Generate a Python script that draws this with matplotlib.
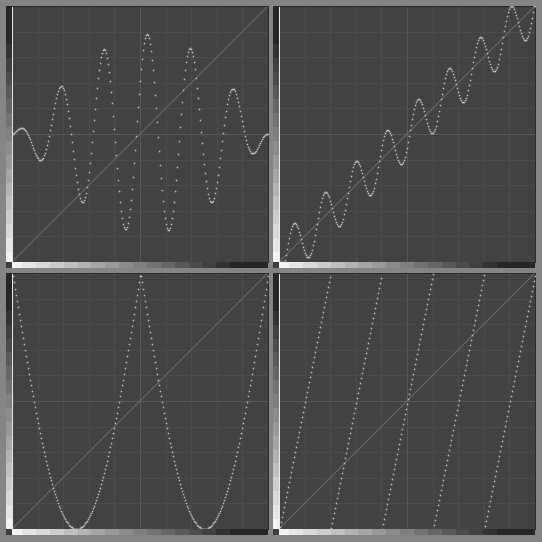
import numpy as np
import matplotlib
matplotlib.use("Agg")
import matplotlib.pyplot as plt

# ---- values ----
n_samples = 256                 # one sample per pixel column
grid_divisions = 10
# panel 1: modulated wave
wave_cycles = 5.9
wave_amplitude = 0.39
wave_phase = 0.95
wave_skew = 1.1
# panel 2: rising wave
ramp_cycles = 8.26
ramp_amplitude = 0.095
ramp_phase = -1.28
# panel 3: double vee
vee_cycles = 2
# panel 4: sawtooth
saw_cycles = 5

FIG = 542
BG = "#858585"
PLOT_BG = "#424242"
GRID = "#4b4b4b"
GRID_MID = "#575757"
DIAG = "#686868"
CURVE = "#bebebe"

x = (np.arange(n_samples) + 0.5) / n_samples
curves = [
    0.5 + wave_amplitude * np.sin(np.pi * x ** wave_skew)
    * np.sin(2 * np.pi * wave_cycles * x + wave_phase),
    np.clip(x + ramp_amplitude * np.sin(2 * np.pi * ramp_cycles * x + ramp_phase), 0, 1),
    1 - np.abs(np.sin(np.pi * vee_cycles * x)),
    (saw_cycles * x) % 1.0,
]
origins = [(12, 6), (279, 6), (12, 273), (279, 273)]
SIZE = 256
BAR = 6

fig = plt.figure(figsize=(FIG / 100, FIG / 100), dpi=100, facecolor=BG)


def rect(px, py, w, h):
    return [px / FIG, 1 - (py + h) / FIG, w / FIG, h / FIG]


t = np.linspace(0, 1, 256)
g = np.clip(0.96 - 0.92 * t, 0.16, 1)
g = np.round(g * 20) / 20

for (px, py), cy in zip(origins, curves):
    ax = fig.add_axes(rect(px, py, SIZE, SIZE))
    ax.set_facecolor(PLOT_BG)
    ax.set_xlim(0, 1)
    ax.set_ylim(0, 1)
    ax.set_xticks([])
    ax.set_yticks([])
    for k in range(1, grid_divisions):
        c = GRID_MID if k == grid_divisions // 2 else GRID
        ax.axvline(k / grid_divisions, color=c, lw=0.72, zorder=1)
        ax.axhline(k / grid_divisions, color=c, lw=0.72, zorder=1)
    ax.plot([0, 1], [0, 1], color=DIAG, lw=0.8, zorder=2)
    ln, = ax.plot(x, cy, linestyle="none", marker="s", ms=1.1, mew=0,
                  color=CURVE, zorder=3)
    ln.set_antialiased(False)
    for s in ("top", "right"):
        ax.spines[s].set_color("#2a2a2a")
        ax.spines[s].set_linewidth(0.72)
    ax.spines["left"].set_color("#e8e8e8")
    ax.spines["left"].set_linewidth(0.72)
    ax.spines["bottom"].set_visible(False)

    # bottom gradient bar
    bx = fig.add_axes(rect(px, py + SIZE, SIZE, BAR))
    bx.imshow(g[None, :], cmap="gray", vmin=0, vmax=1, aspect="auto",
              interpolation="nearest")
    bx.axis("off")
    # left gradient bar
    lx = fig.add_axes(rect(px - BAR, py, BAR, SIZE))
    lx.imshow(g[:, None], cmap="gray", vmin=0, vmax=1, aspect="auto",
              interpolation="nearest", origin="lower")
    lx.axis("off")
    # corner
    cx = fig.add_axes(rect(px - BAR, py + SIZE, BAR, BAR))
    cx.set_facecolor("#3e3e3e")
    cx.set_xticks([])
    cx.set_yticks([])
    for s in cx.spines.values():
        s.set_visible(False)

fig.savefig("out.png", dpi=100, facecolor=BG)
